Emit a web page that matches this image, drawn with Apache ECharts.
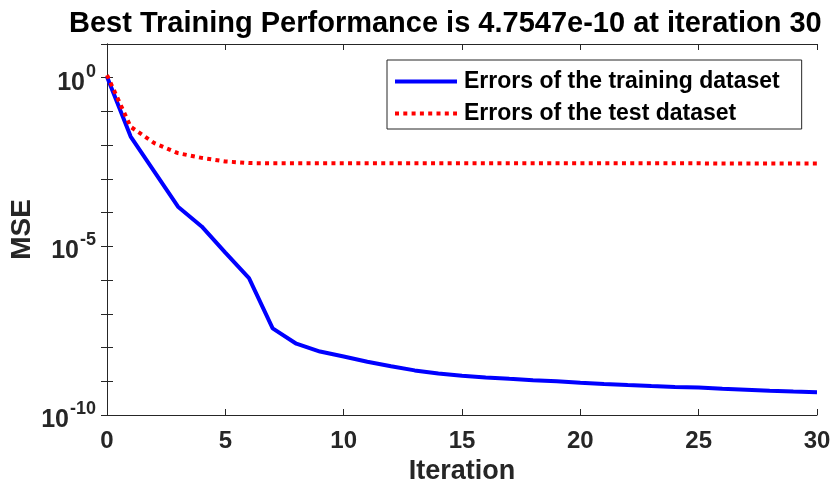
<!DOCTYPE html>
<html><head><meta charset="utf-8">
<script src="https://cdn.jsdelivr.net/npm/echarts@6/dist/echarts.min.js"></script>
<style>html,body{margin:0;padding:0;background:#fff}#c{width:838px;height:490px}</style>
</head><body><div id="c"></div>
<script>
const iterations = Array.from({length: 31}, (_, i) => i);
const xTicks = [0, 5, 10, 15, 20, 25, 30];
const trainErrors = [1.07, 1.8e-2, 1.65e-3, 1.5e-4, 3.9e-5, 6.5e-6, 1.15e-6, 3.7e-8, 1.3e-8, 7.6e-9,
  5.4e-9, 3.8e-9, 2.8e-9, 2.1e-9, 1.7e-9, 1.45e-9, 1.3e-9, 1.18e-9, 1.08e-9, 1.0e-9,
  9.0e-10, 8.3e-10, 7.7e-10, 7.2e-10, 6.8e-10, 6.5e-10, 6.0e-10, 5.6e-10, 5.2e-10, 4.95e-10, 4.7547e-10];
const testErrors = [1.2, 3.5e-2, 1.15e-2, 5.8e-3, 4.2e-3, 3.3e-3, 2.95e-3, 2.9e-3, 2.9e-3, 2.9e-3,
  2.9e-3, 2.9e-3, 2.9e-3, 2.9e-3, 2.9e-3, 2.9e-3, 2.9e-3, 2.9e-3, 2.9e-3, 2.9e-3,
  2.9e-3, 2.9e-3, 2.9e-3, 2.9e-3, 2.9e-3, 2.9e-3, 2.85e-3, 2.85e-3, 2.85e-3, 2.85e-3, 2.85e-3];
const yLabelExponents = [0, -5, -10];
const titleText = 'Best Training Performance is 4.7547e-10 at iteration 30';
const seriesNames = ['Errors of the training dataset', 'Errors of the test dataset'];

const FONT = 'Liberation Sans, Arial, Helvetica, sans-serif';
const AX = '#262626';
const trainLine = {color: '#0000ff', width: 4};
const testLine = {color: '#ff0000', width: 4, type: [4, 4.3], cap: 'butt'};
const chart = echarts.init(document.getElementById('c'));
const axisBase = {
  axisLine: {show: true, lineStyle: {color: AX, width: 1}},
  axisTick: {show: true, inside: true, length: 6, lineStyle: {color: AX}},
  splitLine: {show: false}
};
chart.setOption({
  backgroundColor: '#fff',
  animation: false,
  title: {text: titleText, left: 64, top: 4,
    textStyle: {fontFamily: FONT, fontWeight: 'bold', fontSize: 29, color: '#000'}},
  legend: {
    orient: 'vertical', left: 387, top: 60,
    padding: [10, 22, 4, 6], itemGap: 9,
    itemWidth: 62, itemHeight: 14,
    backgroundColor: '#fff', borderColor: AX, borderWidth: 1,
    itemStyle: {opacity: 0},
    textStyle: {fontFamily: FONT, fontWeight: 'bold', fontSize: 23, color: '#000', padding: [0, 0, 0, 2]},
    data: [
      {name: seriesNames[0], lineStyle: trainLine},
      {name: seriesNames[1], lineStyle: testLine}
    ]
  },
  grid: {left: 107, right: 21, top: 44, bottom: 75, outerBoundsMode: 'none', containLabel: false},
  xAxis: [
    Object.assign({}, axisBase, {
      type: 'value', min: 0, max: 30, interval: 5,
      name: 'Iteration', nameLocation: 'middle', nameGap: 43, nameMoveOverlap: false,
      nameTextStyle: {fontFamily: FONT, fontWeight: 'bold', fontSize: 27, color: AX},
      axisLabel: {fontFamily: FONT, fontWeight: 'bold', fontSize: 24, color: AX, margin: 14,
        formatter: v => xTicks.includes(v) ? String(v) : ''}
    }),
    Object.assign({}, axisBase, {
      type: 'value', min: 0, max: 30, interval: 5, position: 'top',
      axisLabel: {show: false}
    })
  ],
  yAxis: [
    Object.assign({}, axisBase, {
      type: 'log', logBase: 10, min: 1e-10, max: 10, interval: 1,
      name: 'MSE', nameLocation: 'middle', nameGap: 71, nameRotate: 90, nameMoveOverlap: false,
      nameTextStyle: {fontFamily: FONT, fontWeight: 'bold', fontSize: 28, color: AX},
      axisLabel: {
        margin: 11,
        formatter: v => {
          const e = Math.round(Math.log10(v));
          return yLabelExponents.includes(e) ? '{b|10}{s|' + e + '}' : '';
        },
        rich: {
          b: {fontFamily: FONT, fontWeight: 'bold', fontSize: 25, color: AX, padding: [10, 0, 0, 0]},
          s: {fontFamily: FONT, fontWeight: 'bold', fontSize: 18, color: AX, padding: [0, 0, 12, 1]}
        }
      }
    }),
    Object.assign({}, axisBase, {
      type: 'log', logBase: 10, min: 1e-10, max: 10, interval: 1, position: 'right',
      axisLabel: {show: false}
    })
  ],
  series: [
    {name: seriesNames[0], type: 'line', showSymbol: false, symbol: 'none',
      data: iterations.map((x, i) => [x, trainErrors[i]]),
      lineStyle: trainLine, itemStyle: {color: '#0000ff'}},
    {name: seriesNames[1], type: 'line', showSymbol: false, symbol: 'none',
      data: iterations.map((x, i) => [x, testErrors[i]]),
      lineStyle: testLine, itemStyle: {color: '#ff0000'}}
  ]
});
</script></body></html>
